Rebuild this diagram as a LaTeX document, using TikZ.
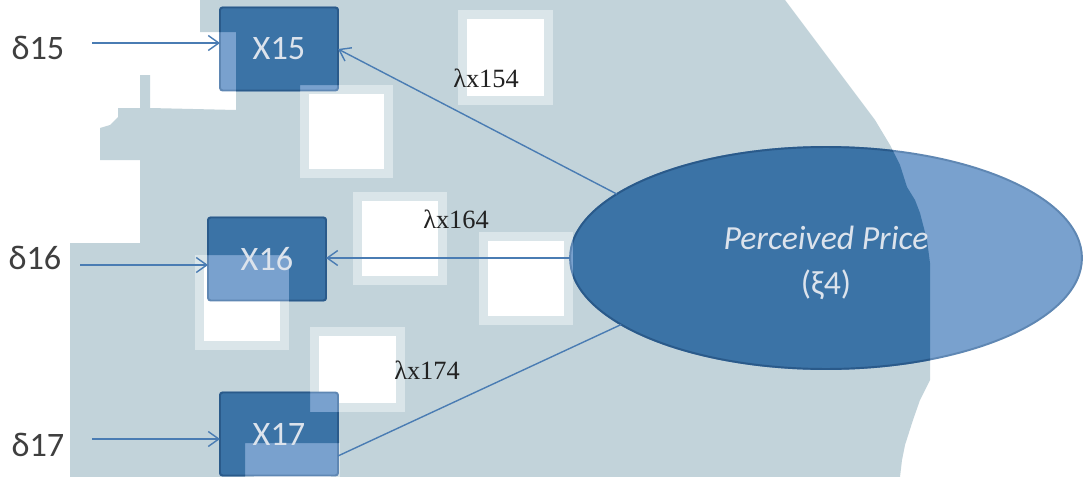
\documentclass[tikz,border=0pt]{standalone}
\usepackage{fontspec}
\setmainfont{Carlito}
\newfontfamily\labelfont{Liberation Serif}
\usetikzlibrary{shapes.geometric,arrows.meta}
\pgfdeclarelayer{bg}
\pgfsetlayers{bg,main}

\definecolor{bggrey}{HTML}{C2D3DA}
\definecolor{bandgrey}{HTML}{DAE5E9}
\definecolor{darkfill}{HTML}{3B73A6}
\definecolor{darkline}{HTML}{2A5A8A}
\definecolor{lightfill}{HTML}{79A1CE}
\definecolor{lightline}{HTML}{5F87B3}
\definecolor{boxtext}{HTML}{DCE3EC}
\definecolor{errtext}{HTML}{3F3F3F}
\definecolor{loadtext}{HTML}{222222}
\definecolor{connblue}{HTML}{4A7CB3}

% outline of the grey backdrop (pixel-like units)
\newcommand\greyarea{(200,0) -- (785,0) -- (800,20) -- (815,40) -- (830,60) -- (845,80)
  -- (860,100) -- (875,120) -- (890,145) -- (900,165) -- (907,187) -- (915,200)
  -- (920,213) -- (927,240) -- (930,263) -- (930,380) -- (920,400) -- (913,420)
  -- (905,445) -- (902,460) -- (900,477) -- (70,477) -- (70,243) -- (140,243)
  -- (140,160) -- (100,160) -- (100,128) -- (110,125) -- (118,117) -- (118,108)
  -- (140,108) -- (140,75) -- (150,75) -- (150,108) -- (236,110) -- (236,32)
  -- (200,32) -- cycle}
% white tiles scattered over the backdrop
\newcommand\tiles{(458,10) rectangle (553,105) (300,85) rectangle (393,178)
  (353,192) rectangle (447,285) (479,232) rectangle (573,325)
  (195,255) rectangle (289,350) (310,327) rectangle (405,412)
  (245,443) rectangle (340,490)}

\begin{document}
\begin{tikzpicture}[x=0.02cm,y=-0.02cm,
  obs/.style={shape=rectangle, minimum width=2.36cm, minimum height=1.66cm,
    inner sep=0pt, outer sep=0pt, text=boxtext,
    font=\fontsize{19.5}{23}\selectfont},
  latent/.style={shape=ellipse, minimum width=10.24cm, minimum height=4.44cm,
    inner sep=0pt, outer sep=0pt, text=boxtext, align=center,
    font=\fontsize{19.2}{25.5}\selectfont},
  errlabel/.style={text=errtext, inner sep=0pt, font=\fontsize{19.5}{23}\selectfont},
  loadlabel/.style={text=loadtext, inner sep=0pt, font=\labelfont\fontsize{15}{18}\selectfont},
  conn/.style={draw=connblue, line width=0.8pt},
  arr/.style={conn, -{Straight Barb[length=6pt,width=8.5pt]}},
  lightshape/.style={fill=lightfill, draw=lightline, line width=1.1pt},
  darkshape/.style={fill=darkfill, draw=darkline, line width=1.1pt},
]
\useasboundingbox (0,0) rectangle (1086,477);

% indicators and the latent variable
\node[obs] (x15) at (279,49) {X15};
\node[obs] (x16) at (267,259) {X16};
\node[obs] (x17) at (279,434) {X17};
\node[latent] (price) at (826,258) {};
\node[text=boxtext, align=center, font=\fontsize{19.2}{25.5}\selectfont]
  (pricetext) at ([yshift=-2.8pt]price.center) {\textit{Perceived Price}\\(ξ4)};

% error terms
\node[errlabel] (d15) at (38,48) {δ15};
\node[errlabel] (d16) at (35,258) {δ16};
\node[errlabel] (d17) at (38,445) {δ17};
\coordinate (e15) at (92,43);
\coordinate (e16) at (80,265);
\coordinate (e17) at (92,439);
\draw[arr] (e15) -- (e15 -| x15.west);
\draw[arr] (e16) -- (e16 -| x16.west);
\draw[arr] (e17) -- (e17 -| x17.west);

% loadings
\draw[arr] (price.163.5) -- (x15.east);
\draw[arr] (price.west) -- (price.west -| x16.east);
\draw[conn] (price.198.7) -- ([yshift=-12.5pt]x17.east);
\node[loadlabel] (l154) at (486,78) {λx154};
\node[loadlabel] (l164) at (456,219) {λx164};
\node[loadlabel] (l174) at (427,370) {λx174};

\begin{pgfonlayer}{bg}
  \fill[white] (0,0) rectangle (1086,477);
  \fill[bggrey] \greyarea;
  \foreach \a/\b/\c/\d in {458/10/553/105, 300/85/393/178, 353/192/447/285,
      479/232/573/325, 195/255/289/350, 310/327/405/412, 245/443/340/490} {
    \fill[bandgrey] (\a,\b) rectangle (\c,\d);
    \fill[white] (\a+9,\b+9) rectangle (\c-9,\d-9);
  }
  % shapes as they look over white
  \path[lightshape, rounded corners=1.5pt] (x15.south west) rectangle (x15.north east);
  \path[lightshape, rounded corners=1.5pt] (x16.south west) rectangle (x16.north east);
  \path[lightshape, rounded corners=1.5pt] (x17.south west) rectangle (x17.north east);
  \path[lightshape] (price.center) ellipse [x radius=5.12cm, y radius=2.22cm];
  % shapes as they look over the grey backdrop
  \begin{scope}[even odd rule]
    \clip \greyarea \tiles;
    \path[darkshape, rounded corners=1.5pt] (x15.south west) rectangle (x15.north east);
    \path[darkshape, rounded corners=1.5pt] (x16.south west) rectangle (x16.north east);
    \path[darkshape, rounded corners=1.5pt] (x17.south west) rectangle (x17.north east);
    \path[darkshape] (price.center) ellipse [x radius=5.12cm, y radius=2.22cm];
  \end{scope}
\end{pgfonlayer}
\end{tikzpicture}
\end{document}
